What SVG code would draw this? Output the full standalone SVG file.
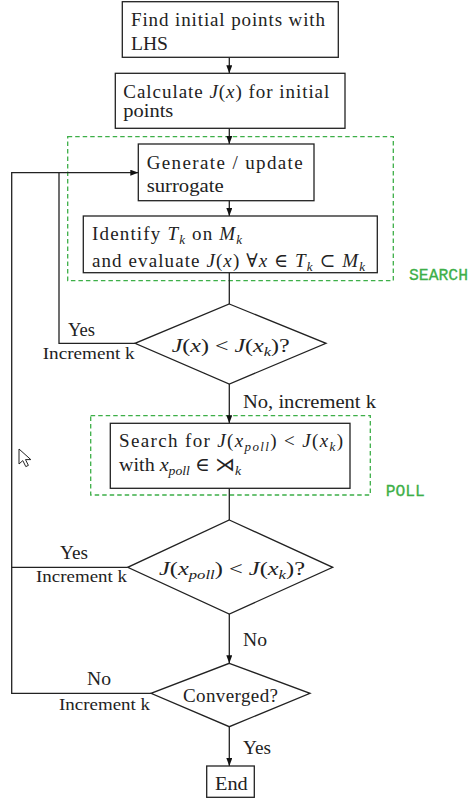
<svg xmlns="http://www.w3.org/2000/svg" width="471" height="801" viewBox="0 0 471 801">
<defs>
<style>
.box{fill:#fff;stroke:#222;stroke-width:1.3}
.dash{fill:none;stroke:#3daf48;stroke-width:1.3;stroke-dasharray:4.5 3}
.t{font-family:"Liberation Serif","DejaVu Serif",serif;font-size:19px;fill:#222}
.s{font-family:"Liberation Serif","DejaVu Serif",serif;font-size:17px;fill:#222}
.i{font-style:italic}
.sub{font-style:italic;font-size:13px}
.g{font-family:"Liberation Mono","DejaVu Sans Mono",monospace;font-size:17px;fill:#3daf48;stroke:#3daf48;stroke-width:0.3}
.ln{fill:none;stroke:#222;stroke-width:1.3}
</style>
<marker id="arr" viewBox="0 0 8 6" refX="8" refY="3" markerWidth="8" markerHeight="6" markerUnits="userSpaceOnUse" orient="auto">
<path d="M0,0 L8,3 L0,6 z" fill="#111"/>
</marker>
</defs>
<rect width="471" height="801" fill="#fff"/>

<g id="search-region">
<rect class="dash" x="67.7" y="136.7" width="325.6" height="144"/>
<text class="g" x="409" y="280" textLength="59" lengthAdjust="spacingAndGlyphs">SEARCH</text>
</g>
<g id="poll-region">
<rect class="dash" x="90.7" y="415.7" width="279.6" height="79.3"/>
<text class="g" x="385.7" y="495.5" textLength="39" lengthAdjust="spacingAndGlyphs">POLL</text>
</g>

<g id="connectors">
<path class="ln" d="M229.3,57.3 V73.3" marker-end="url(#arr)"/>
<path class="ln" d="M229.3,128.3 V144" marker-end="url(#arr)"/>
<path class="ln" d="M229.3,200.7 V216" marker-end="url(#arr)"/>
<path class="ln" d="M229.3,272.7 V304"/>
<path class="ln" d="M229.3,384 V423.3" marker-end="url(#arr)"/>
<path class="ln" d="M229.3,488.3 V520"/>
<path class="ln" d="M229.3,614 V663.3" marker-end="url(#arr)"/>
<path class="ln" d="M229.3,726.7 V766" marker-end="url(#arr)"/>
<path class="ln" d="M135,343.3 H59 V172.7"/>
<path class="ln" d="M127.7,567.3 H11.7"/>
<path class="ln" d="M151,693.3 H11.7 V172.7 H138.3" marker-end="url(#arr)"/>
<text class="t" x="68" y="336" textLength="27" lengthAdjust="spacingAndGlyphs">Yes</text>
<text class="s" x="42.7" y="359" textLength="92" lengthAdjust="spacingAndGlyphs">Increment k</text>
<text class="t" x="243" y="408" textLength="133" lengthAdjust="spacingAndGlyphs">No, increment k</text>
<text class="t" x="60" y="559" textLength="28" lengthAdjust="spacingAndGlyphs">Yes</text>
<text class="s" x="36" y="582" textLength="91" lengthAdjust="spacingAndGlyphs">Increment k</text>
<text class="t" x="243" y="646" textLength="24" lengthAdjust="spacingAndGlyphs">No</text>
<text class="t" x="87" y="685" textLength="24" lengthAdjust="spacingAndGlyphs">No</text>
<text class="s" x="59" y="710" textLength="91" lengthAdjust="spacingAndGlyphs">Increment k</text>
<text class="t" x="243" y="754" textLength="28" lengthAdjust="spacingAndGlyphs">Yes</text>
</g>

<g id="n-lhs">
<rect class="box" x="122.3" y="1.7" width="216" height="55.6"/>
<text class="t" x="131" y="26" textLength="194" lengthAdjust="spacing">Find initial points with</text>
<text class="t" x="131" y="50" textLength="37" lengthAdjust="spacingAndGlyphs">LHS</text>
</g>

<g id="n-calc">
<rect class="box" x="115.3" y="73.3" width="229.7" height="55"/>
<text class="t" x="123.3" y="98" textLength="206" lengthAdjust="spacing">Calculate <tspan class="i">J</tspan>(<tspan class="i">x</tspan>) for initial</text>
<text class="t" x="123.3" y="117" textLength="50" lengthAdjust="spacingAndGlyphs">points</text>
</g>

<g id="n-surrogate">
<rect class="box" x="138.3" y="144" width="175.7" height="56.7"/>
<text class="t" x="146.7" y="169" textLength="156" lengthAdjust="spacing">Generate / update</text>
<text class="t" x="146.7" y="192" textLength="77" lengthAdjust="spacingAndGlyphs">surrogate</text>
</g>

<g id="n-identify">
<rect class="box" x="83.3" y="216" width="294" height="56.7"/>
<text class="t" x="92" y="240" textLength="150" lengthAdjust="spacing">Identify <tspan class="i">T</tspan><tspan class="sub" dy="4">k</tspan><tspan dy="-4"> on </tspan><tspan class="i">M</tspan><tspan class="sub" dy="4">k</tspan></text>
<text class="t" x="92" y="266.7" textLength="273" lengthAdjust="spacing">and evaluate <tspan class="i">J</tspan>(<tspan class="i">x</tspan>) ∀<tspan class="i">x</tspan> ∈ <tspan class="i">T</tspan><tspan class="sub" dy="4">k</tspan><tspan dy="-4"> ⊂ </tspan><tspan class="i">M</tspan><tspan class="sub" dy="4">k</tspan></text>
</g>

<g id="d-search">
<polygon class="box" points="229.3,304 326,343.3 229.3,384 135,343.3"/>
<text class="t" x="171.7" y="352" textLength="118" lengthAdjust="spacingAndGlyphs"><tspan class="i">J</tspan>(<tspan class="i">x</tspan>) &lt; <tspan class="i">J</tspan>(<tspan class="i">x</tspan><tspan class="sub" dy="4">k</tspan><tspan dy="-4">)?</tspan></text>
</g>

<g id="n-poll">
<rect class="box" x="110.3" y="423.3" width="239.7" height="65"/>
<text class="t" x="119" y="446.7" textLength="224" lengthAdjust="spacing">Search for <tspan class="i">J</tspan>(<tspan class="i">x</tspan><tspan class="sub" dy="4">poll</tspan><tspan dy="-4">) &lt; </tspan><tspan class="i">J</tspan>(<tspan class="i">x</tspan><tspan class="sub" dy="4">k</tspan><tspan dy="-4">)</tspan></text>
<text class="t" x="119" y="471" textLength="122" lengthAdjust="spacingAndGlyphs">with <tspan class="i">x</tspan><tspan class="sub" dy="4">poll</tspan><tspan dy="-4"> ∈ ⋊</tspan><tspan class="sub" dy="4">k</tspan></text>
</g>

<g id="d-poll">
<polygon class="box" points="229.3,520 332.7,567.3 229.3,614 127.7,567.3"/>
<text class="t" x="159" y="575" textLength="146" lengthAdjust="spacingAndGlyphs"><tspan class="i">J</tspan>(<tspan class="i">x</tspan><tspan class="sub" dy="4">poll</tspan><tspan dy="-4">) &lt; </tspan><tspan class="i">J</tspan>(<tspan class="i">x</tspan><tspan class="sub" dy="4">k</tspan><tspan dy="-4">)?</tspan></text>
</g>

<g id="d-converged">
<polygon class="box" points="229.3,663.3 310,693.3 229.3,726.7 151,693.3"/>
<text class="t" x="183" y="702" textLength="95" lengthAdjust="spacing">Converged?</text>
</g>

<g id="n-end">
<rect class="box" x="206.7" y="766" width="47.6" height="31.3"/>
<text class="t" x="215" y="790" textLength="32.7" lengthAdjust="spacingAndGlyphs">End</text>
</g>

<path d="M19,449 L19,464 L22.8,460.6 L25.8,466.6 L28.4,465.4 L25.5,459.6 L30.8,459.6 Z" fill="#fff" stroke="#222" stroke-width="1" stroke-linejoin="round"/>
</svg>
